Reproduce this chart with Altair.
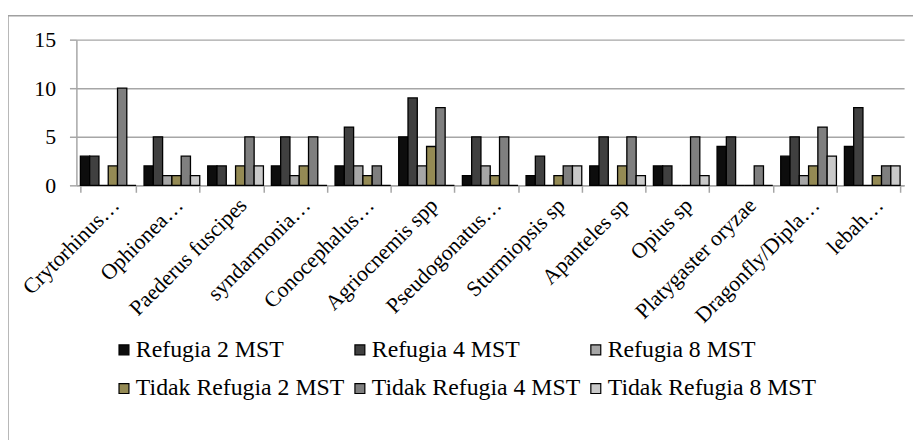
import altair as alt
import pandas as pd

categories = [
    "Crytorhinus…", "Ophionea…", "Paederus fuscipes", "syndarmonia…",
    "Conocephalus…", "Agriocnemis spp", "Pseudogonatus…", "Sturmiopsis sp",
    "Apanteles sp", "Opius sp", "Platygaster oryzae", "Dragonfly/Dipla…", "lebah…",
]
series = [
    "Refugia 2 MST", "Refugia 4 MST", "Refugia 8 MST",
    "Tidak Refugia 2 MST", "Tidak Refugia 4 MST", "Tidak Refugia 8 MST",
]
refugia_2 = [3, 2, 2, 2, 2, 5, 1, 1, 2, 2, 4, 3, 4]
refugia_4 = [3, 5, 2, 5, 6, 9, 5, 3, 5, 2, 5, 5, 8]
refugia_8 = [0, 1, 0, 1, 2, 2, 2, 0, 0, 0, 0, 1, 0]
tidak_2 = [2, 1, 2, 2, 1, 4, 1, 1, 2, 0, 0, 2, 1]
tidak_4 = [10, 3, 5, 5, 2, 8, 5, 2, 5, 5, 2, 6, 2]
tidak_8 = [0, 1, 2, 0, 0, 0, 0, 2, 1, 1, 0, 3, 2]
colors = ["#0d0d0d", "#404040", "#a6a6a6", "#948a54", "#7f7f7f", "#c9c9c9"]

values = [refugia_2, refugia_4, refugia_8, tidak_2, tidak_4, tidak_8]
rows = []
for s, vals in zip(series, values):
    for c, v in zip(categories, vals):
        rows.append({"category": c, "series": s, "value": v})
df = pd.DataFrame(rows)

FONT = "Liberation Serif"
GRID = "#a6a6a6"

bars = alt.Chart(df).mark_bar(stroke="black", strokeWidth=1.3).encode(
    x=alt.X(
        "category:N", sort=categories, title=None,
        scale=alt.Scale(paddingInner=0.125, paddingOuter=0.0625),
        axis=alt.Axis(
            labelAngle=-45, labelFont=FONT, labelFontSize=22, labelColor="black",
            tickBand="extent", tickSize=7, tickColor=GRID, tickWidth=1.5,
            domainColor=GRID, domainWidth=1.5, labelPadding=2, labelLimit=300,
        ),
    ),
    xOffset=alt.XOffset("series:N", sort=series, scale=alt.Scale(padding=0, paddingInner=0)),
    y=alt.Y(
        "value:Q", title=None,
        scale=alt.Scale(domain=[0, 15], nice=False),
        axis=alt.Axis(
            values=[0, 5, 10, 15], labelFont=FONT, labelFontSize=22, labelColor="black",
            tickSize=7, tickColor=GRID, tickWidth=1.5, domainColor=GRID, domainWidth=1.5,
            gridColor=GRID, gridWidth=1.5, labelPadding=14,
        ),
    ),
    color=alt.Color(
        "series:N", sort=series,
        scale=alt.Scale(domain=series, range=colors),
        legend=alt.Legend(
            title=None, orient="none", legendX=36, legendY=301, columns=3,
            direction="horizontal",
            symbolType="square", symbolSize=100, symbolStrokeColor="black",
            symbolStrokeWidth=1.2, labelFont=FONT, labelFontSize=24, labelColor="black",
            columnPadding=3, rowPadding=15, labelOffset=0, labelLimit=400, padding=0,
        ),
    ),
)

frame_df = pd.DataFrame({"k": [0]})
frame = alt.Chart(frame_df).mark_rect(fill="transparent", stroke="#a0a0a0", strokeWidth=1.5).encode(
    x=alt.value(-69), x2=alt.value(850), y=alt.value(-24), y2=alt.value(420)
)

chart = alt.layer(frame, bars).properties(
    width=835, height=147,
    autosize=alt.AutoSizeParams(type="none"),
    padding={"left": 69, "top": 30, "right": 9, "bottom": 255},
    background="white",
).configure(font=FONT).configure_view(stroke=None).configure_legend(
    labelFont=FONT, labelFontSize=24
)

chart.save("out.html", embed_options={"renderer": "svg", "actions": False})
